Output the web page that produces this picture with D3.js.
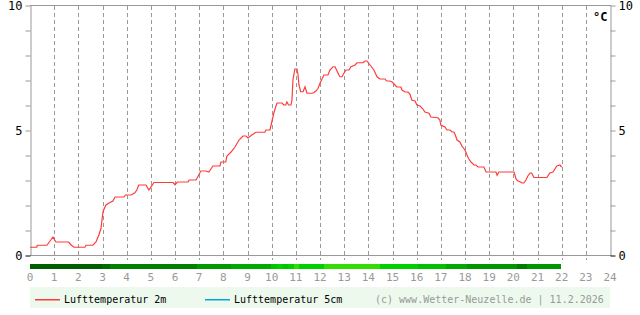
<!DOCTYPE html>
<html lang="de">
<head>
<meta charset="UTF-8">
<title>Lufttemperatur</title>
<script src="https://d3js.org/d3.v7.min.js"></script>
<style>
  body { margin: 0; background: #fff; }
  text { font-family: "DejaVu Sans Mono", monospace; }
  .grid line { stroke: #999; stroke-dasharray: 4,3; }
  .frame { stroke: #999; fill: none; }
</style>
</head>
<body>
<svg id="chart" width="640" height="315"></svg>
<script>
// Lufttemperatur 2m, Stunde / Grad C
const hours = [0, 0.28, 0.30, 0.70, 0.80, 0.95, 1.07, 1.60, 1.70, 1.82, 2.27, 2.32, 2.60, 2.73, 2.85, 2.94,
  3.02, 3.14, 3.27, 3.43, 3.52, 3.89, 3.95, 4.18, 4.34, 4.42, 4.50, 4.80, 4.92, 5.13, 5.92, 6.00, 6.10,
  6.54, 6.58, 6.87, 7.07, 7.28, 7.40, 7.57, 7.86, 7.90, 8.10, 8.15, 8.32, 8.48, 8.65, 8.81, 8.94, 9.02,
  9.18, 9.35, 9.72, 9.76, 9.93, 10.00, 10.10, 10.22, 10.43, 10.50, 10.58, 10.63, 10.70, 10.80, 10.84,
  10.88, 10.96, 11.05, 11.09, 11.13, 11.20, 11.30, 11.38, 11.46, 11.67, 11.75, 11.83, 11.92, 12.00,
  12.08, 12.16, 12.33, 12.41, 12.54, 12.62, 12.70, 12.78, 12.83, 12.91, 12.99, 13.07, 13.20, 13.28,
  13.45, 13.53, 13.78, 13.86, 13.94, 14.07, 14.23, 14.36, 14.48, 14.69, 14.75, 14.89, 15.00, 15.10,
  15.18, 15.35, 15.39, 15.52, 15.64, 15.72, 15.80, 15.93, 16.01, 16.14, 16.26, 16.34, 16.51, 16.59,
  16.88, 16.96, 17.00, 17.17, 17.25, 17.38, 17.46, 17.54, 17.60, 17.67, 17.79, 17.87, 18.00, 18.08,
  18.16, 18.25, 18.37, 18.45, 18.54, 18.78, 18.82, 18.87, 19.28, 19.33, 19.40, 20.03, 20.11, 20.19,
  20.30, 20.36, 20.44, 20.52, 20.60, 20.69, 20.76, 20.85, 21.39, 21.51, 21.64, 21.72, 21.80, 21.93, 22.00];
const temp2m = [0.31, 0.31, 0.39, 0.39, 0.52, 0.72, 0.52, 0.52, 0.40, 0.31, 0.31, 0.39, 0.39, 0.52, 0.80, 1.08,
  1.73, 2.00, 2.08, 2.16, 2.32, 2.32, 2.40, 2.40, 2.49, 2.60, 2.80, 2.80, 2.60, 2.90, 2.90, 2.81, 2.92,
  2.92, 3.00, 3.00, 3.36, 3.36, 3.32, 3.56, 3.56, 3.72, 3.72, 3.96, 4.12, 4.32, 4.60, 4.76, 4.76, 4.68,
  4.80, 4.91, 4.91, 5.00, 5.00, 5.30, 5.72, 6.08, 6.08, 6.00, 6.00, 6.12, 6.00, 6.00, 6.20,
  7.00, 7.44, 7.44, 7.20, 6.80, 6.53, 6.53, 6.73, 6.47, 6.47, 6.50, 6.56, 6.67, 6.87,
  7.03, 7.20, 7.20, 7.40, 7.53, 7.53, 7.37, 7.20, 7.13, 7.13, 7.27, 7.40, 7.40, 7.53,
  7.60, 7.69, 7.69, 7.76, 7.76, 7.60, 7.40, 7.13, 7.04, 7.04, 6.96, 6.96, 6.91, 6.80,
  6.72, 6.72, 6.60, 6.52, 6.52, 6.44, 6.20, 6.16, 6.00, 5.96, 5.84, 5.72, 5.67, 5.52,
  5.49, 5.40, 5.20, 5.12, 5.00, 5.00, 4.92, 4.92, 4.80, 4.60, 4.52, 4.36, 4.20, 4.00,
  3.84, 3.72, 3.60, 3.60, 3.52, 3.52, 3.44, 3.32, 3.32, 3.19, 3.32, 3.32, 3.04, 2.96,
  2.92, 2.88, 2.88, 3.00, 3.16, 3.28, 3.28, 3.10, 3.10, 3.28, 3.32, 3.44, 3.56, 3.60, 3.52];

// Sonnenbalken: Beginn (Stunde) und Farbe
const sunStart = [0, 2.98, 3.31, 6.91, 8.32, 9.97, 10.22, 10.47, 10.68, 10.92, 11.13, 12.17, 14.48,
  16.05, 17.21, 18.08, 20.15, 20.57];
const sunEndLast = 21.98;
const sunColor = ["#005c00", "#006b00", "#007f00", "#009900", "#00aa00", "#00c400", "#00d000", "#00c400",
  "#00d000", "#33dd00", "#00d000", "#33dd00", "#00d000", "#00c000", "#00a800", "#009600", "#007c00", "#009600"];

const hourTicks = d3.range(0, 25);
const tempTicks = d3.range(0, 11);
const tempLabels = [0, 5, 10];

const svg = d3.select("#chart");
const x = d3.scaleLinear().domain([0, 24]).range([30, 610]);
const y = d3.scaleLinear().domain([0, 10]).range([255, 5]);

// gestrichelte Stundenlinien
svg.append("g").attr("class", "grid")
  .selectAll("line").data(hourTicks.slice(1, 24)).enter().append("line")
  .attr("x1", d => Math.round(x(d)) + 0.5).attr("x2", d => Math.round(x(d)) + 0.5)
  .attr("y1", y(10) + 1).attr("y2", 260);

// Rahmen
svg.append("line").attr("class", "frame")
  .attr("x1", 30).attr("x2", 611).attr("y1", 5.5).attr("y2", 5.5);
svg.append("line").attr("class", "frame")
  .attr("x1", 30).attr("x2", 611).attr("y1", 255.5).attr("y2", 255.5);

// y-Achsen links und rechts
function yAxis(g, side) {
  const axis = (side === "left" ? d3.axisLeft(y) : d3.axisRight(y))
    .tickValues(tempTicks).tickSize(5).tickSizeOuter(0)
    .tickFormat(d => tempLabels.includes(d) ? d : "");
  g.call(axis);
  g.select(".domain").attr("stroke", "#999");
  g.selectAll(".tick line").attr("stroke", d => d === 0 ? "#000" : "#999");
  g.selectAll(".tick text").attr("fill", "#000").style("font-size", "12px");
}
svg.append("g").attr("transform", "translate(30.5,0.5)").call(g => yAxis(g, "left"));
svg.append("g").attr("transform", "translate(610.5,0.5)").call(g => yAxis(g, "right"));

svg.append("text").attr("x", 593).attr("y", 21)
  .style("font-size", "12px").style("font-weight", "bold").text("°C");

// Sonnenbalken
svg.append("g").selectAll("rect").data(sunStart).enter().append("rect")
  .attr("x", d => x(d))
  .attr("width", (d, i) => x(i + 1 < sunStart.length ? sunStart[i + 1] : sunEndLast) - x(d))
  .attr("y", 264).attr("height", 5)
  .attr("fill", (d, i) => sunColor[i])
  .attr("shape-rendering", "crispEdges");

// Stundenbeschriftung
svg.append("g").selectAll("text").data(hourTicks).enter().append("text")
  .attr("x", d => x(d)).attr("y", 281)
  .attr("text-anchor", "middle").attr("fill", "#999")
  .style("font-size", "11px").text(d => d);

// Temperaturkurve
const pts = hours.map((h, i) => [h, temp2m[i]]);
svg.append("path").datum(pts)
  .attr("d", d3.line().x(d => x(d[0])).y(d => y(d[1])))
  .attr("fill", "none").attr("stroke", "#ff3b3b").attr("stroke-width", 1.2);

// Legende
const lg = svg.append("g");
lg.append("rect").attr("x", 30).attr("y", 287).attr("width", 580).attr("height", 21).attr("fill", "#edf9ed");
const legendItems = [
  { name: "Lufttemperatur 2m", color: "#ff3b3b", x: 35 },
  { name: "Lufttemperatur 5cm", color: "#00a8e0", x: 205 }
];
legendItems.forEach(it => {
  lg.append("rect").attr("x", it.x).attr("y", 299).attr("width", 25).attr("height", 1.5)
    .attr("fill", it.color);
  lg.append("text").attr("x", it.x + 29).attr("y", 303).style("font-size", "10px").attr("fill", "#000").text(it.name);
});
lg.append("text").attr("x", 375).attr("y", 303).style("font-size", "10px").attr("fill", "#999")
  .text("(c) www.Wetter-Neuzelle.de | 11.2.2026");
</script>
</body>
</html>
